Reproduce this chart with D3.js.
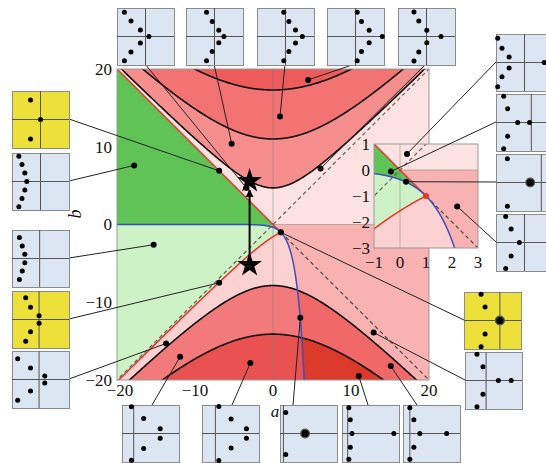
<!DOCTYPE html>
<html>
<head>
<meta charset="utf-8">
<script src="https://cdn.jsdelivr.net/npm/d3@7"></script>
<style>
  body { margin: 0; background: #fff; }
  svg { display: block; }
  text { font-family: 'Liberation Serif', 'Times New Roman', serif; fill: #111; }
</style>
</head>
<body>
<svg id="chart" width="546" height="463"></svg>
<script>
// values
const upperLevels = [4.71, 11.0, 17.3];   // black curves b^2 - a^2 = c^2 above
const lowerLevels = [7.85, 14.1];         // and below
const mainTicks = [-20, -10, 0, 10, 20];
const insetTicks = [-1, 0, 1, 2, 3];
const stars = [[-3, 5.6], [-3, -5.2]];
const cusp = [1, -1];

// roots in the small panels: [re, im, multiplicity], conjugates mirrored
const rootsTop = [
  [[-0.74, 0.85], [-0.51, 0.54], [-0.18, 0.23], [0.12, 0]],
  [[-0.28, 0.85], [-0.08, 0.53], [0.15, 0.22], [0.33, 0]],
  [[-0.06, 0.85], [0.12, 0.53], [0.35, 0.23], [0.59, 0]],
  [[0.06, 0.85], [0.21, 0.53], [0.48, 0.22], [0.94, 0]],
  [[-0.44, 0.86], [-0.27, 0.54], [0.01, 0.22], [0.51, 0]]
];
const axisTop = [0, 0, 0, 0, 0];
const rootsRight = [
  [[-0.94, 0.85], [-0.79, 0.5], [-0.54, 0.19], [0.69, 0]],
  [[-0.73, 0.92], [-0.59, 0.48], [-0.24, 0], [0.18, 0]],
  [[-0.6, 0.83], [0.2, 0, 2]],
  [[-0.66, 0.91], [-0.47, 0.47], [-0.18, 0]]
];
const axisRight = [0, 0.24, 0.59, 0];
const rootsLeft = [
  [[-0.35, 0.68], [0, 0]],
  [[-0.76, 0.89], [-0.65, 0.6], [-0.55, 0.3], [-0.48, 0]],
  [[-0.74, 0.74], [-0.64, 0.44], [-0.55, 0.15]],
  [[-0.52, 0.76], [-0.35, 0.43], [-0.05, 0.13]],
  [[-0.8, 0.73], [-0.35, 0.4], [0.15, 0.12]]
];
const axisLeft = [0, 0, -0.03, -0.05, -0.05];
const yellowLeft = [true, false, false, true, false];
const rootsBottom = [
  [[-0.67, 0.94], [-0.24, 0.53], [0.34, 0.17]],
  [[-0.41, 0.95], [0.02, 0.51], [0.56, 0.17]],
  [[-0.8, 0.74], [-0.12, 0, 2]],
  [[-0.76, 0.9], [-0.71, 0.48], [-0.65, 0], [0.82, 0]],
  [[-0.76, 0.9], [-0.62, 0.48], [-0.41, 0], [0.53, 0]]
];
const axisBottom = [-0.59, -0.53, -0.88, -0.8, -0.76];
const rootsLowRight = [
  [[-0.4, 0.92], [-0.26, 0.47], [0.26, 0, 2]],
  [[-0.58, 0.92], [-0.37, 0.48], [0.17, 0], [0.62, 0]]
];
const axisLowRight = [0.26, -0.26];
const yellowLowRight = [true, false];

// (a, b) points the panels point to
const targetTop = [[-3.4, 4.7], [-5.3, 10.4], [0.9, 13.9], [4.5, 18.6], [6.1, 7.2]];
const targetRight = [[0.27, 0.62], [-0.35, -0.06], [0.23, -0.45], [2.2, -1.4]]; // inset
const targetLeft = [[-6.9, 6.9], [-17.8, 7.6], [-15.3, -2.6], [-6.9, -7.5], [-13.7, -15.3]];
const targetBottom = [[-11.9, -17], [-2.9, -17.8], [3.5, -12], [11, -19.5], [15.1, -18.2]];
const targetLowRight = [[1, -1], [12.9, -13.9]];

const svg = d3.select('#chart');
const defs = svg.append('defs');

const col = {
  pale: '#fde2e2', pinkR: '#f9b2b2', pinkL: '#fbd1d1',
  green: '#5fc455', lgreen: '#cdf2c6',
  up: ['#f68e8e', '#f37373', '#ee5b5b'],
  lowL: ['#f37a7a', '#ea5252'],
  lowR: ['#f06868', '#db3a2a'],
  red: '#e8332a', blue: '#3a4fc0'
};

// boundary curves
const blue = a => -Math.exp(a - 1);
function bluePts(a0, a1) {
  const p = [];
  for (let a = a0; a <= a1 + 1e-9; a += 0.02) p.push([a, blue(a)]);
  return p;
}
function hopfPts() {
  const p = [];
  for (let w = 1e-4; w < Math.PI; w += 0.0015) {
    const a = w / Math.tan(w), b = -w / Math.sin(w);
    p.push([a, b]);
    if (a < -30) break;
  }
  return p;
}
function hyper(c, sign) {
  const p = [];
  for (let a = -30; a <= 30; a += 0.1) p.push([a, sign * Math.sqrt(a * a + c * c)]);
  return p;
}

let clipN = 0;
function drawPlane(g, xs, ys) {
  const line = d3.line().x(d => xs(d[0])).y(d => ys(d[1]));
  const [x0, x1] = xs.range(), [y1, y0] = ys.range();
  const id = 'clip' + (clipN++);
  defs.append('clipPath').attr('id', id).append('rect')
    .attr('x', x0).attr('y', y0).attr('width', x1 - x0).attr('height', y1 - y0);
  const c = g.append('g').attr('clip-path', `url(#${id})`);
  const poly = (p, fill, parent = c) => parent.append('path').attr('d', line(p) + 'Z').attr('fill', fill);
  const aEnd = 1 + Math.log(45);

  poly([[-40, -40], [40, -40], [40, 40], [-40, 40]], col.pale);
  poly([[-40, -45], [40, -45], [40, 0], [-40, 0]], col.pinkR);
  poly(bluePts(-40, aEnd).concat([[-40, -45]]), col.pinkL);
  poly([[-40, 40], [1, -1]].concat(bluePts(-40, 1).reverse()), col.green);
  const hp = hopfPts();
  poly(hp.concat([[-40, -31]], bluePts(-40, 1)), col.lgreen);
  upperLevels.forEach((lv, i) => poly(hyper(lv, 1).concat([[30, 60], [-30, 60]]), col.up[i]));
  lowerLevels.forEach((lv, i) => poly(hyper(lv, -1).concat([[30, -60], [-30, -60]]), col.lowL[i]));
  const rid = 'clip' + (clipN++);
  defs.append('clipPath').attr('id', rid).append('path')
    .attr('d', line(bluePts(-40, aEnd).concat([[40, -45], [40, 0], [-40, 0]])) + 'Z');
  const rg = c.append('g').attr('clip-path', `url(#${rid})`);
  lowerLevels.forEach((lv, i) => poly(hyper(lv, -1).concat([[30, -60], [-30, -60]]), col.lowR[i], rg));

  // light axes
  c.append('line').attr('x1', xs(0)).attr('x2', xs(0)).attr('y1', y0).attr('y2', y1)
    .attr('stroke', '#777').attr('stroke-opacity', 0.45);
  c.append('line').attr('x1', xs(0)).attr('x2', x1).attr('y1', ys(0)).attr('y2', ys(0))
    .attr('stroke', '#777').attr('stroke-opacity', 0.45);

  const stroke = (p, color, w, dash) => c.append('path').attr('d', line(p)).attr('fill', 'none')
    .attr('stroke', color).attr('stroke-width', w).attr('stroke-dasharray', dash || null);
  stroke([[-40, -40], [40, 40]], '#333', 1.2, '4,3').attr('stroke-opacity', 0.75);
  stroke([[1, -1], [40, -40]], '#333', 1.2, '4,3').attr('stroke-opacity', 0.85);
  upperLevels.forEach(lv => stroke(hyper(lv, 1), '#111', 1.6));
  lowerLevels.forEach(lv => stroke(hyper(lv, -1), '#111', 1.6));
  stroke([[-40, 40], [1, -1]], col.red, 1.5);
  stroke(hp, col.red, 1.5);
  stroke(bluePts(-40, aEnd), col.blue, 1.5);
  c.append('circle').attr('cx', xs(cusp[0])).attr('cy', ys(cusp[1])).attr('r', 3).attr('fill', col.red);

  g.append('rect').attr('x', x0).attr('y', y0).attr('width', x1 - x0).attr('height', y1 - y0)
    .attr('fill', 'none').attr('stroke', '#999');
}

// main plane
const x = d3.scaleLinear().domain([-20, 20]).range([117, 429]);
const y = d3.scaleLinear().domain([-20, 20]).range([380, 69]);
const mainG = svg.append('g');
drawPlane(mainG, x, y);

// stars and arrow
defs.append('marker').attr('id', 'arr').attr('viewBox', '0 0 10 10').attr('refX', 9).attr('refY', 5)
  .attr('markerWidth', 4).attr('markerHeight', 5).attr('orient', 'auto')
  .append('path').attr('d', 'M0,0L10,5L0,10Z').attr('fill', '#000');
mainG.append('line').attr('x1', x(stars[1][0])).attr('y1', y(stars[1][1]) - 8)
  .attr('x2', x(stars[0][0])).attr('y2', y(stars[0][1]) + 9)
  .attr('stroke', '#000').attr('stroke-width', 2).attr('marker-end', 'url(#arr)');
mainG.selectAll('.star').data(stars).join('path')
  .attr('transform', d => `translate(${x(d[0])},${y(d[1])})`)
  .attr('d', d3.symbol(d3.symbolStar).size(190)).attr('fill', '#000');

// main ticks
const fmt = d => d < 0 ? '\u2212' + (-d) : d;
mainG.selectAll('.yt').data(mainTicks).join('text')
  .attr('x', 112).attr('y', d => y(d)).attr('dy', '0.35em').attr('text-anchor', 'end')
  .attr('font-size', 17).text(fmt);
mainG.selectAll('.xt').data(mainTicks).join('text')
  .attr('x', d => x(d) + (d === -20 ? 3 : 0)).attr('y', 396).attr('text-anchor', 'middle')
  .attr('font-size', 17).text(fmt);
mainG.append('text').attr('x', 275).attr('y', 417).attr('text-anchor', 'middle')
  .attr('font-size', 17).attr('font-style', 'italic').text('a');
mainG.append('text').attr('transform', 'translate(81,214) rotate(-90)').attr('text-anchor', 'middle')
  .attr('font-size', 18).attr('font-style', 'italic').text('b');

// inset
const xi = d3.scaleLinear().domain([-1, 3]).range([374, 478]);
const yi = d3.scaleLinear().domain([-3, 1]).range([248, 144]);
const insetG = svg.append('g');
drawPlane(insetG, xi, yi);
insetG.selectAll('.yt').data(insetTicks.map(d => d - 2)).join('text')
  .attr('x', 370).attr('y', d => yi(d)).attr('dy', '0.35em').attr('text-anchor', 'end')
  .attr('font-size', 17).text(fmt);
insetG.selectAll('.xt').data(insetTicks).join('text')
  .attr('x', d => xi(d)).attr('y', 268).attr('text-anchor', 'middle')
  .attr('font-size', 17).text(fmt);

// panels and leaders
const S = 57;
const leaders = svg.append('g');
const panels = svg.append('g');
function panel(px, py, roots, axis, yellow) {
  const sx = d3.scaleLinear().domain([-1, 1]).range([px, px + S]);
  const sy = d3.scaleLinear().domain([-1, 1]).range([py + S, py]);
  const g = panels.append('g');
  g.append('rect').attr('x', px + 0.5).attr('y', py + 0.5).attr('width', S).attr('height', S)
    .attr('fill', yellow ? '#ede03a' : '#dce5f2').attr('stroke', '#8c8c8c');
  g.append('line').attr('x1', sx(axis)).attr('x2', sx(axis)).attr('y1', py).attr('y2', py + S)
    .attr('stroke', '#555');
  g.append('line').attr('x1', px).attr('x2', px + S).attr('y1', sy(0)).attr('y2', sy(0))
    .attr('stroke', '#555');
  const pts = [];
  roots.forEach(r => { pts.push(r); if (r[1] > 0) pts.push([r[0], -r[1], r[2]]); });
  g.selectAll('.h').data(pts.filter(d => d[2] === 2)).join('circle')
    .attr('cx', d => sx(d[0])).attr('cy', d => sy(d[1])).attr('r', 5).attr('fill', '#555');
  g.selectAll('.d').data(pts).join('circle')
    .attr('cx', d => sx(d[0])).attr('cy', d => sy(d[1]))
    .attr('r', d => d[2] === 2 ? 3.6 : 2.5).attr('fill', '#000');
}
function leader(x1, y1, x2, y2) {
  leaders.append('line').attr('x1', x1).attr('y1', y1).attr('x2', x2).attr('y2', y2)
    .attr('stroke', '#222').attr('stroke-width', 1);
  leaders.append('circle').attr('cx', x2).attr('cy', y2).attr('r', 3).attr('fill', '#000');
}

const topX = [117, 186, 257, 327, 398];
rootsTop.forEach((r, i) => {
  panel(topX[i], 8, r, axisTop[i], false);
  leader(topX[i] + 28, 64, x(targetTop[i][0]), y(targetTop[i][1]));
});
const rightY = [34, 94, 154, 214];
rootsRight.forEach((r, i) => {
  panel(496, rightY[i], r, axisRight[i], false);
  leader(496, rightY[i] + 28, xi(targetRight[i][0]), yi(targetRight[i][1]));
});
const leftY = [91, 153, 230, 291, 351];
rootsLeft.forEach((r, i) => {
  panel(12, leftY[i], r, axisLeft[i], yellowLeft[i]);
  leader(69, leftY[i] + 28, x(targetLeft[i][0]), y(targetLeft[i][1]));
});
const bottomX = [122, 202, 280, 342, 403];
const bottomDx = [30, 30, 13, 26, 14];
rootsBottom.forEach((r, i) => {
  panel(bottomX[i], 405, r, axisBottom[i], false);
  leader(bottomX[i] + bottomDx[i], 405, x(targetBottom[i][0]), y(targetBottom[i][1]));
});
const lowRightPos = [[464, 292], [465, 352]];
rootsLowRight.forEach((r, i) => {
  panel(lowRightPos[i][0], lowRightPos[i][1], r, axisLowRight[i], yellowLowRight[i]);
  leader(lowRightPos[i][0], lowRightPos[i][1] + 28, x(targetLowRight[i][0]), y(targetLowRight[i][1]));
});
</script>
</body>
</html>
